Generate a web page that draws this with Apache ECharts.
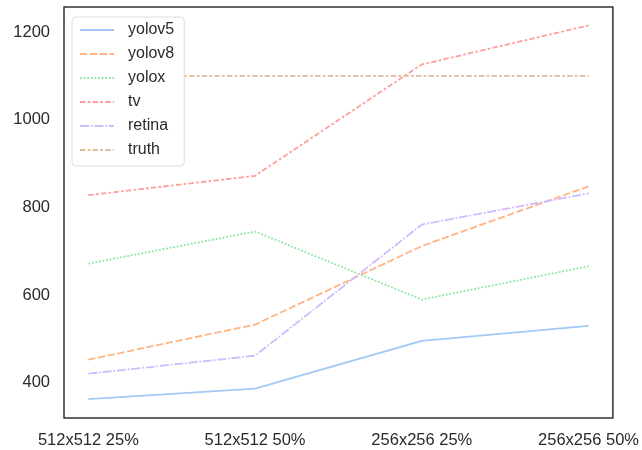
<!DOCTYPE html>
<html><head><meta charset="utf-8">
<script src="https://cdn.jsdelivr.net/npm/echarts@6/dist/echarts.min.js"></script>
<style>html,body{margin:0;padding:0;background:#fff}#c{width:642px;height:450px}</style>
</head><body><div id="c"></div>
<script>
const categories = ['512x512 25%', '512x512 50%', '256x256 25%', '256x256 50%'];
const yolov5 = [363, 387, 496, 530];
const yolov8 = [453, 533, 712, 848];
const yolox = [672, 745, 590, 666];
const tv = [828, 872, 1126, 1215];
const retina = [421, 462, 761, 832];
const truth = [1100, 1100, 1100, 1100];
const yTicks = [400, 600, 800, 1000, 1200];

const names = ['yolov5','yolov8','yolox','tv','retina','truth'];
const vals = [yolov5, yolov8, yolox, tv, retina, truth];
const colors = ['#a1c9f4','#ffb482','#8de5a1','#ff9f9b','#d0bbff','#debb9b'];
const lw = 1.8;
const dashes = ['solid', [4*lw,1.5*lw], [1*lw,1*lw], [3*lw,1.25*lw,1.5*lw,1.25*lw], [5*lw,1*lw,1*lw,1*lw], [3*lw,1.25*lw,1.5*lw,1.25*lw]];
const font = 'Liberation Sans';

const chart = echarts.init(document.getElementById('c'));
chart.setOption({
  animation: false,
  grid: {left: 64, right: 27, top: 7, bottom: 32, show: true, borderColor: '#333', borderWidth: 1.5, containLabel: false},
  legend: {
    orient: 'vertical', left: 72, top: 17, itemWidth: 34, itemHeight: 14, itemGap: 8,
    backgroundColor: '#fff', borderColor: '#ddd', borderWidth: 1, borderRadius: 4, padding: [5, 10, 8, 7],
    itemStyle: {opacity: 0},
    textStyle: {fontSize: 16, color: '#2a2a2a', fontFamily: font, padding: [0, 0, 0, 9], lineHeight: 16},
    data: names
  },
  xAxis: {
    type: 'value', min: -0.146, max: 3.146,
    axisLine: {show: false}, axisTick: {show: false}, splitLine: {show: false},
    axisLabel: {customValues: [0,1,2,3], formatter: v => categories[Math.round(v)], fontSize: 16.5, color: '#2a2a2a', margin: 14, fontFamily: font}
  },
  yAxis: {
    type: 'value', min: 320, max: 1257,
    axisLine: {show: false}, axisTick: {show: false}, splitLine: {show: false},
    axisLabel: {customValues: yTicks, formatter: v => String(v), fontSize: 16.5, color: '#2a2a2a', margin: 14, fontFamily: font}
  },
  series: names.map((n, i) => ({
    name: n, type: 'line', symbol: 'none', showSymbol: false,
    data: vals[i].map((v, j) => [j, v]),
    lineStyle: {color: colors[i], width: lw, type: dashes[i]},
    itemStyle: {color: colors[i]}
  }))
});
</script></body></html>
